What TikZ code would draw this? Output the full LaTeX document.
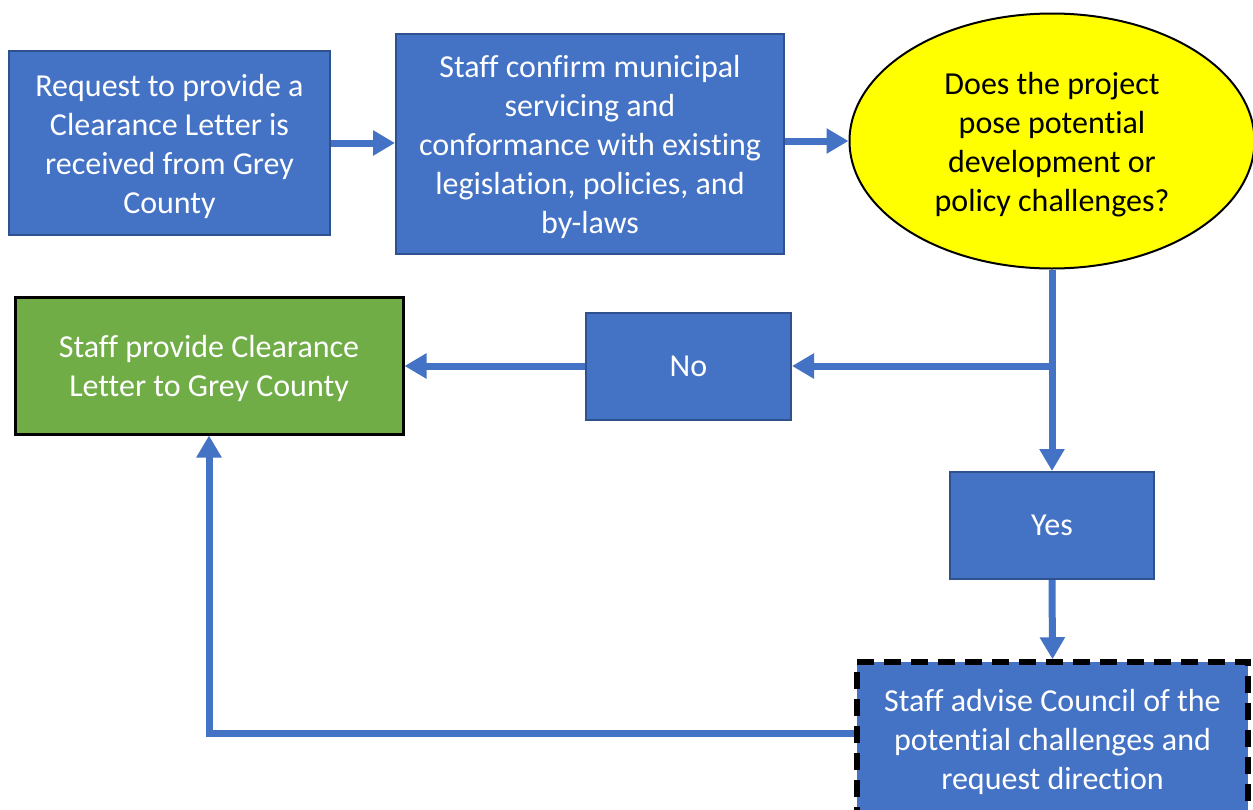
\documentclass[tikz,border=0pt]{standalone}
\usepackage{fontspec}
\setmainfont{Carlito}[Ligatures=NoCommon]
\usetikzlibrary{shapes.geometric,arrows.meta}
\definecolor{bluefill}{HTML}{4472C4}
\definecolor{blueedge}{HTML}{2F528F}
\definecolor{greenfill}{HTML}{70AD47}
\definecolor{yellowfill}{HTML}{FFFF00}
\newcommand{\firststrut}{\rule{0pt}{29pt}}
\tikzset{
  x=1pt, y=-1pt,
  txt/.style={font=\fontsize{32}{39}\selectfont, align=center, inner sep=0pt},
  bluebox/.style={txt, rectangle, fill=bluefill, draw=blueedge, line width=2pt, text=white},
  greenbox/.style={txt, rectangle, fill=greenfill, draw=black, line width=3pt, text=white},
  decision/.style={txt, ellipse, fill=yellowfill, draw=black, line width=2pt, text=black},
  dashbox/.style={txt, rectangle, fill=bluefill, draw=black, line width=5.5pt, dash pattern=on 17pt off 10pt, text=white},
  flow/.style={draw=bluefill, line width=7pt, -{Triangle[length=22pt,width=24pt]}},
}
\begin{document}
\begin{tikzpicture}
\clip (0,0) rectangle (1253,809);
\fill[white] (0,0) rectangle (1253,809);

\node[bluebox, minimum width=321pt, minimum height=184pt] (req) at (169.5,143)
  {\firststrut Request to provide a\\Clearance Letter is\\received from Grey\\County};
\node[bluebox, minimum width=388pt, minimum height=220pt] (conf) at (590,144)
  {\firststrut Staff confirm municipal\\servicing and\\conformance with existing\\legislation, policies, and\\by-laws};
\node[decision, minimum width=405pt, minimum height=255pt] (q) at (1052,141)
  {\firststrut Does the project\\pose potential\\development or\\policy challenges?};
\node[greenbox, minimum width=388pt, minimum height=137pt] (clear) at (209,365.5)
  {\firststrut Staff provide Clearance\\Letter to Grey County};
\node[bluebox, minimum width=205pt, minimum height=107pt] (no) at (688.5,366)
  {No};
\node[bluebox, minimum width=204pt, minimum height=107pt] (yes) at (1052,525.5)
  {Yes};
\node[dashbox, minimum width=391pt, minimum height=153pt] (adv) at (1052.5,738.5)
  {\firststrut Staff advise Council of the\\potential challenges and\\request direction};

\draw[flow] (req.east) -- (req.east -| conf.west);
\draw[flow] (conf.east |- q.west) -- (q.west);
\draw[flow] (q.south) -- (yes.north);
\coordinate (branch) at (q.south |- no.east);
\draw[flow] (branch) -- (no.east);
\draw[flow] (no.west) -- (clear.east |- no.west);
\draw[flow] (yes.south) -- (adv.north);
\coordinate (advout) at ([yshift=5.5pt]adv.west);
\draw[flow] (advout) -- (advout -| clear.south) -- (clear.south);
\end{tikzpicture}
\end{document}
